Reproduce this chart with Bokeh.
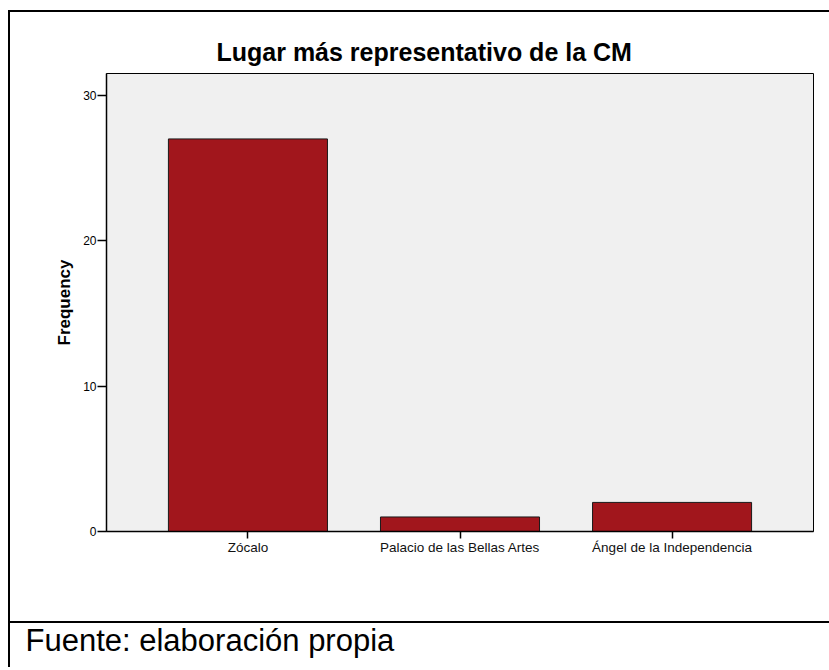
from bokeh.plotting import figure
from bokeh.models import ColumnDataSource, Range1d, FixedTicker, Title
from bokeh.layouts import column
from bokeh.embed import file_html
from bokeh.resources import INLINE

# ---- data ----
title_text = "Lugar más representativo de la CM"
categories = ["Zócalo", "Palacio de las Bellas Artes", "Ángel de la Independencia"]
frequency = [27, 1, 2]
y_ticks = [0, 10, 20, 30]
y_label = "Frequency"
source_note = "Fuente: elaboración propia"

FONT = "Liberation Sans"
BAR = "#A1161C"

xs = list(range(len(categories)))
src = ColumnDataSource(dict(x=xs, top=frequency))

W = 819

p = figure(width=W, height=609, output_backend="svg", toolbar_location=None,
           x_range=Range1d(-0.667, len(categories) - 1 + 0.667),
           y_range=Range1d(0, 31.5),
           min_border_left=96, min_border_right=W - 803,
           min_border_top=61, min_border_bottom=90)

p.title = Title(text=title_text, align="left", offset=110,
                text_font=FONT, text_font_size="25px", text_font_style="bold",
                text_color="black", standoff=16)

p.background_fill_color = "#F0F0F0"
p.border_fill_color = "white"
p.outline_line_color = "black"
p.outline_line_width = 1
p.grid.visible = False

p.vbar(x="x", top="top", width=0.75, bottom=0, source=src,
       fill_color=BAR, line_color="#1a1a1a", line_width=1)

# y axis
ya = p.yaxis[0]
ya.ticker = FixedTicker(ticks=y_ticks)
ya.minor_tick_line_color = None
ya.major_tick_in = 0
ya.major_tick_out = 9
ya.major_tick_line_width = 1.5
ya.axis_line_width = 1.5
ya.axis_line_color = "black"
ya.major_label_text_font = FONT
ya.major_label_text_font_size = "12px"
ya.major_label_text_color = "black"
ya.major_label_standoff = 1
ya.axis_label = y_label
ya.axis_label_text_font = FONT
ya.axis_label_text_font_size = "17px"
ya.axis_label_text_font_style = "bold"
ya.axis_label_text_color = "black"
ya.axis_label_standoff = 6

# x axis
xa = p.xaxis[0]
xa.ticker = FixedTicker(ticks=xs)
xa.major_label_overrides = {i: c for i, c in zip(xs, categories)}
xa.minor_tick_line_color = None
xa.major_tick_in = 0
xa.major_tick_out = 7
xa.major_tick_line_width = 1.5
xa.axis_line_width = 1.5
xa.axis_line_color = "black"
xa.major_label_text_font = FONT
xa.major_label_text_font_size = "13.5px"
xa.major_label_text_color = "#111111"
xa.major_label_standoff = 1

# caption strip
cap = figure(width=W, height=46, output_backend="svg", toolbar_location=None,
             x_range=Range1d(0, 1), y_range=Range1d(0, 1),
             x_axis_location=None, y_axis_location=None, min_border=0)
cap.grid.visible = False
cap.outline_line_color = None
cap.background_fill_color = "white"
cap.border_fill_color = "white"
cap.title = Title(text=source_note, align="left", offset=-81,
                  text_font=FONT, text_font_size="31px", text_font_style="normal",
                  text_color="black", standoff=-6)
cap.styles = {"border-top": "2px solid black"}

layout = column(p, cap, spacing=0, margin=(10, 0, 0, 8),
                styles={"border-left": "2px solid black",
                        "border-top": "2px solid black"})

open("out.html", "w").write(file_html(layout, INLINE))
